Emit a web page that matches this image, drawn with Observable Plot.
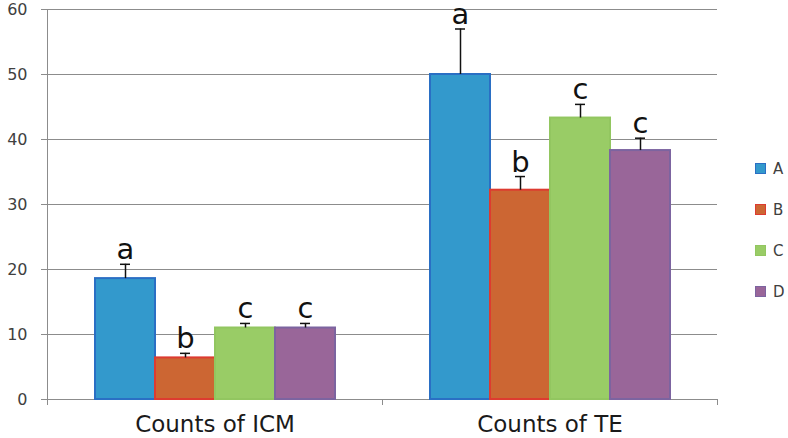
<!DOCTYPE html>
<html><head><meta charset="utf-8">
<script src="https://cdn.jsdelivr.net/npm/d3@7"></script>
<script src="https://cdn.jsdelivr.net/npm/@observablehq/plot@0.6"></script>
<style>
body{margin:0;background:#fff;}
#wrap{position:relative;width:788px;height:438px;font-family:"DejaVu Sans",sans-serif;}
#legend{position:absolute;left:755px;top:148px;}
#legend .row{display:flex;align-items:center;height:41px;font-size:15px;color:#404040;}
#legend .sw{width:11px;height:11px;border:1.5px solid;margin-right:7px;box-sizing:border-box;}
</style></head><body><div id="wrap"></div>
<script>
const groups = ["Counts of ICM", "Counts of TE"];
const series = ["A", "B", "C", "D"];
const icmMeans = [18.6, 6.4, 11.0, 11.0];
const icmErrTops = [20.8, 7.1, 11.7, 11.7];
const icmLetters = ["a", "b", "c", "c"];
const teMeans = [50.0, 32.2, 43.3, 38.3];
const teErrTops = [57.0, 34.3, 45.4, 40.2];
const teLetters = ["a", "b", "c", "c"];
const yTicks = [0, 10, 20, 30, 40, 50, 60];
const fillColors = ["#3399cc", "#cc6633", "#99cc66", "#996699"];
const strokeColors = ["#2a6fc4", "#dd3b30", "#92c660", "#7c64a0"];

const data = [];
series.forEach((s, i) => {
  data.push({group: groups[0], series: s, value: icmMeans[i], err: icmErrTops[i], letter: icmLetters[i], fill: fillColors[i], stroke: strokeColors[i]});
  data.push({group: groups[1], series: s, value: teMeans[i], err: teErrTops[i], letter: teLetters[i], fill: fillColors[i], stroke: strokeColors[i]});
});

const W = 788, H = 438, mT = 9, mB = 39;
const chart = Plot.plot({
  width: W, height: H,
  marginLeft: 46, marginRight: 71, marginTop: mT, marginBottom: mB,
  style: {fontFamily: "DejaVu Sans, sans-serif", background: "white"},
  fx: {domain: groups, padding: 0, label: null, axis: null},
  x: {domain: series, paddingInner: 0, paddingOuter: 0.75, axis: null},
  y: {domain: [0, 60], axis: null},
  color: {type: "identity"},
  marks: [
    Plot.gridY(yTicks, {stroke: "#8c8c8c", strokeOpacity: 1, strokeWidth: 1}),
    Plot.frame({anchor: "left", facetAnchor: "left", stroke: "#8c8c8c", insetBottom: -5}),
    Plot.frame({anchor: "right", stroke: "#8c8c8c", insetTop: H - mT - mB, insetBottom: -5}),
    Plot.axisY({ticks: yTicks, tickSize: 6, tickPadding: 14, fontSize: 16, stroke: "#8c8c8c", color: "#404040", label: null}),
    Plot.axisFx({anchor: "bottom", tickSize: 0, tickPadding: 16, fontSize: 23, color: "#1a1a1a", label: null}),
    Plot.barY(data, {fx: "group", x: "series", y: "value", fill: "fill", stroke: "stroke", strokeWidth: 2}),
    Plot.ruleX(data, {fx: "group", x: "series", y1: "value", y2: "err", stroke: "#111", strokeWidth: 1.5}),
    Plot.tickY(data, {fx: "group", x: "series", y: "err", stroke: "#111", strokeWidth: 1.5, insetLeft: 25, insetRight: 25}),
    Plot.text(data, {fx: "group", x: "series", y: "err", text: "letter", lineAnchor: "bottom", dy: -5, fontSize: 29, fill: "#111"})
  ]
});
const wrap = document.getElementById("wrap");
wrap.appendChild(chart);

const legend = d3.select(wrap).append("div").attr("id", "legend");
series.forEach((s, i) => {
  const row = legend.append("div").attr("class", "row");
  row.append("div").attr("class", "sw").style("background", fillColors[i]).style("border-color", strokeColors[i]);
  row.append("span").text(s);
});
</script>
</body></html>
